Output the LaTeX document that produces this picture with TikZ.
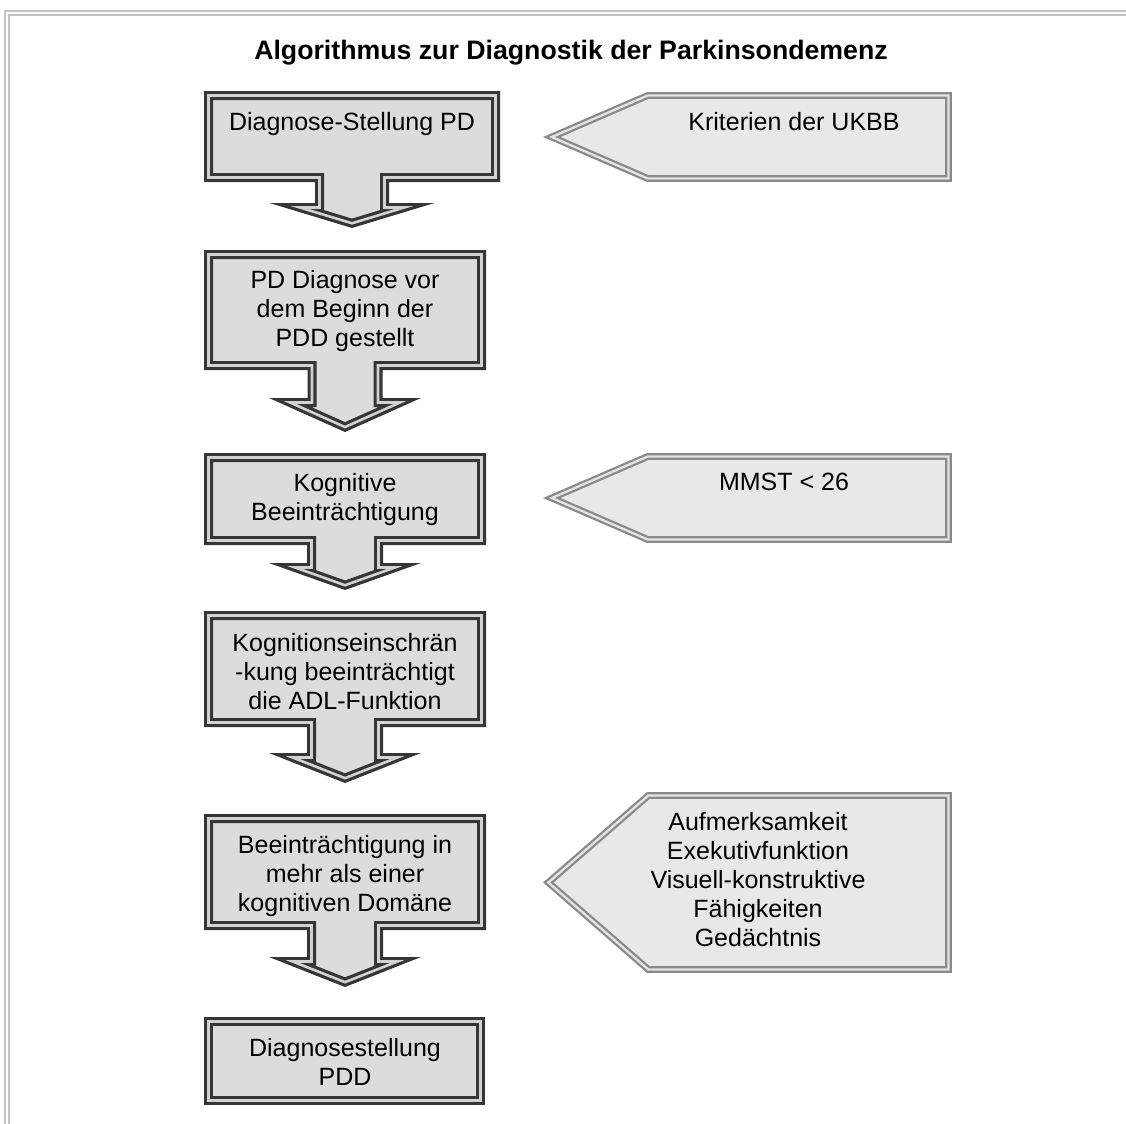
\documentclass[tikz,border=0pt]{standalone}
\usepackage{fontspec}
\setmainfont{Liberation Sans}
\definecolor{boxedge}{HTML}{363636}
\definecolor{boxgap}{HTML}{D2D2D2}
\definecolor{boxfill}{HTML}{DCDCDC}
\definecolor{tagedge}{HTML}{8A8A8A}
\definecolor{taggap}{HTML}{E4E4E4}
\definecolor{tagfill}{HTML}{E8E8E8}
\definecolor{framegray}{HTML}{C4C4C4}

% Box with a block arrow pointing down:
% #1 centre x, #2 half width, #3 top, #4 box bottom,
% #5 stem half width, #6 head half width, #7 head shoulder, #8 tip
\newcommand\DownCallout[8]{%
  \pgfmathsetmacro\bxIn{4.5}%
  \pgfmathsetmacro\bxH{#8-#7}%
  \pgfmathsetmacro\bxL{veclen(#6,\bxH)}%
  \pgfmathsetmacro\bxA{\bxIn*((#6)+\bxL)/\bxH}%
  \pgfmathsetmacro\bxB{\bxIn*\bxL/(#6)}%
  \draw[boxline]
    ({#1-#2+\bxIn},{#3+\bxIn}) -- ({#1+#2-\bxIn},{#3+\bxIn})
    -- ({#1+#2-\bxIn},{#4-\bxIn}) -- ({#1+#5-\bxIn},{#4-\bxIn})
    -- ({#1+#5-\bxIn},{#7+\bxIn}) -- ({#1+#6-\bxA},{#7+\bxIn})
    -- ({#1},{#8-\bxB})
    -- ({#1-#6+\bxA},{#7+\bxIn}) -- ({#1-#5+\bxIn},{#7+\bxIn})
    -- ({#1-#5+\bxIn},{#4-\bxIn}) -- ({#1-#2+\bxIn},{#4-\bxIn}) -- cycle;}

% Pointer tag facing left: #1 tip x, #2 top, #3 bottom, #4 body left, #5 right
\newcommand\SideTag[5]{%
  \pgfmathsetmacro\tgIn{3.5}%
  \pgfmathsetmacro\tgHH{((#3)-(#2))/2}%
  \pgfmathsetmacro\tgMid{((#3)+(#2))/2}%
  \pgfmathsetmacro\tgW{(#4)-(#1)}%
  \pgfmathsetmacro\tgL{veclen(\tgW,\tgHH)}%
  \pgfmathsetmacro\tgA{\tgIn*\tgL/\tgHH}%
  \pgfmathsetmacro\tgC{\tgIn*(\tgL-\tgW)/\tgHH}%
  \draw[tagline]
    ({#1+\tgA},{\tgMid}) -- ({#4+\tgC},{#2+\tgIn}) -- ({#5-\tgIn},{#2+\tgIn})
    -- ({#5-\tgIn},{#3-\tgIn}) -- ({#4+\tgC},{#3-\tgIn}) -- cycle;}

\begin{document}
\begin{tikzpicture}[x=0.5pt,y=-0.5pt,
  boxline/.style={draw=boxedge, line width=1.6pt, double=boxgap,
    double distance=1.3pt, fill=boxfill, line join=miter, miter limit=20},
  tagline/.style={draw=tagedge, line width=1.15pt, double=taggap,
    double distance=1.15pt, fill=tagfill, line join=miter, miter limit=20},
  txt/.style={font=\fontsize{12.5}{14.6}\selectfont, align=center,
    inner sep=0pt, anchor=base},
  heading/.style={font=\bfseries\fontsize{13.35}{15}\selectfont,
    inner sep=0pt, anchor=base}]
\clip (0,0) rectangle (1126,1124);

% outer frame (double thin line)
\draw[framegray, line width=1pt] (5,1140) -- (5,11) -- (1140,11);
\draw[framegray, line width=1pt] (9,1140) -- (9,15) -- (1140,15);

\node[heading] (title) at (571,59) {Algorithmus zur Diagnostik der Parkinsondemenz};

% main chain
\DownCallout{352}{148}{91}{182}{37}{82.5}{203}{228}
\DownCallout{345}{141}{250}{370}{37.5}{76}{398}{432}
\DownCallout{345}{141}{453}{545}{38}{76}{563}{590}
\DownCallout{345}{141}{611}{727}{38}{76}{753}{783}
\DownCallout{345}{141}{814}{930}{38}{76}{957}{987}
\draw[boxline] (208.5,1021.5) rectangle (480.5,1100.5);

% labels: anchored at the baseline of their last line
\node[txt] (s1) at (352,130) {Diagnose-Stellung PD};
\node[txt] (s2) at (345,346.4) {PD Diagnose vor\\dem Beginn der\\PDD gestellt};
\node[txt] (s3) at (345,520.2) {Kognitive\\Beeinträchtigung};
\node[txt] (s4) at (345,709.4) {Kognitionseinschrän\\-kung beeinträchtigt\\die ADL-Funktion};
\node[txt] (s5) at (345,911.4) {Beeinträchtigung in\\mehr als einer\\kognitiven Domäne};
\node[txt] (s6) at (345,1085.2) {Diagnosestellung\\PDD};

% side criteria
\SideTag{543}{92}{182}{647}{952}
\SideTag{543}{453}{543}{647}{952}
\SideTag{543}{792}{973}{647}{952}

\node[txt] (c1) at (794,130) {Kriterien der UKBB};
\node[txt] (c2) at (784,490) {MMST < 26};
\node[txt] (c3) at (758,946.8) {Aufmerksamkeit\\Exekutivfunktion\\Visuell-konstruktive\\Fähigkeiten\\Gedächtnis};
\end{tikzpicture}
\end{document}
